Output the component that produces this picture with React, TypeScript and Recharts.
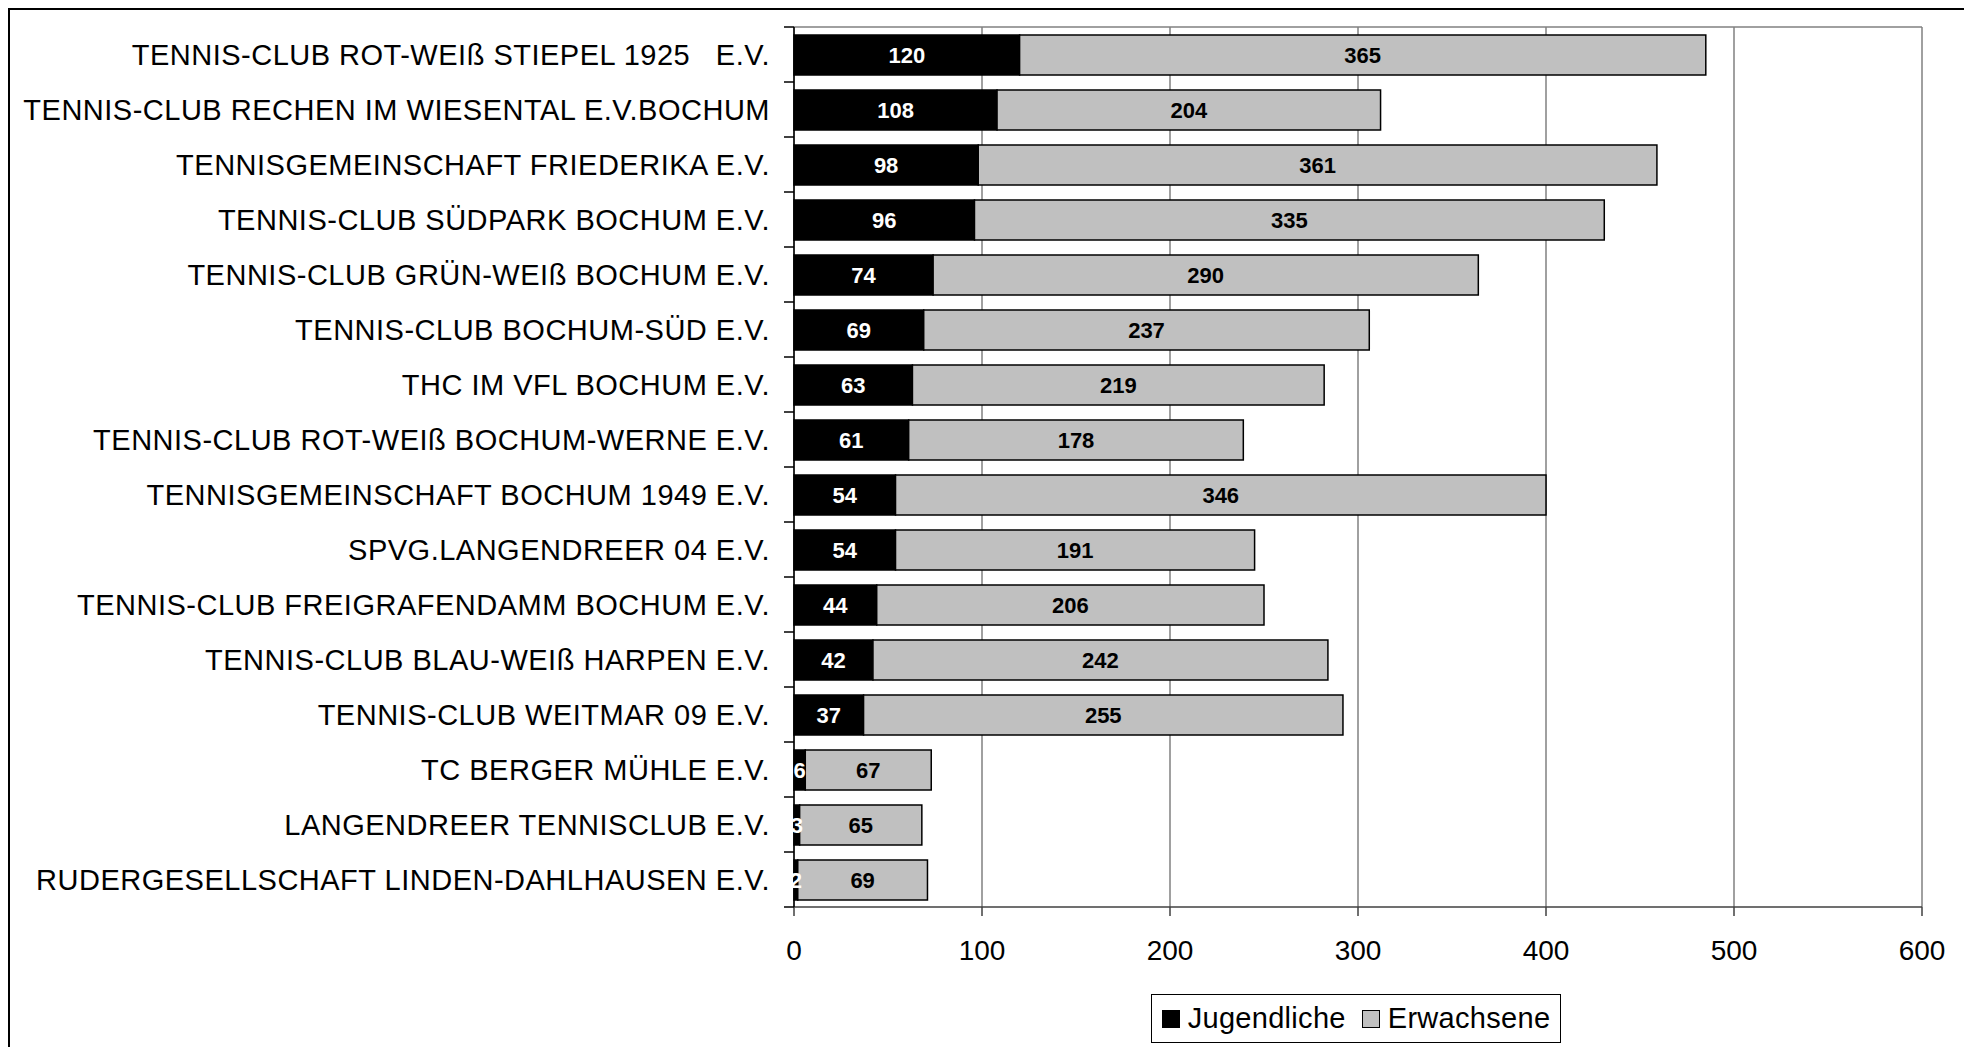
import React from 'react';
import {
  BarChart,
  Bar,
  XAxis,
  YAxis,
  CartesianGrid,
  Legend,
  LabelList,
} from 'recharts';

const clubs = [
  'TENNIS-CLUB ROT-WEIß STIEPEL 1925   E.V.',
  'TENNIS-CLUB RECHEN IM WIESENTAL E.V.BOCHUM',
  'TENNISGEMEINSCHAFT FRIEDERIKA E.V.',
  'TENNIS-CLUB SÜDPARK BOCHUM E.V.',
  'TENNIS-CLUB GRÜN-WEIß BOCHUM E.V.',
  'TENNIS-CLUB BOCHUM-SÜD E.V.',
  'THC IM VFL BOCHUM E.V.',
  'TENNIS-CLUB ROT-WEIß BOCHUM-WERNE E.V.',
  'TENNISGEMEINSCHAFT BOCHUM 1949 E.V.',
  'SPVG.LANGENDREER 04 E.V.',
  'TENNIS-CLUB FREIGRAFENDAMM BOCHUM E.V.',
  'TENNIS-CLUB BLAU-WEIß HARPEN E.V.',
  'TENNIS-CLUB WEITMAR 09 E.V.',
  'TC BERGER MÜHLE E.V.',
  'LANGENDREER TENNISCLUB E.V.',
  'RUDERGESELLSCHAFT LINDEN-DAHLHAUSEN E.V.',
];

const jugendliche = [120, 108, 98, 96, 74, 69, 63, 61, 54, 54, 44, 42, 37, 6, 3, 2];
const erwachsene = [365, 204, 361, 335, 290, 237, 219, 178, 346, 191, 206, 242, 255, 67, 65, 69];

const seriesOrder = ['Jugendliche', 'Erwachsene'];
const xTicks = [0, 100, 200, 300, 400, 500, 600];

const data = clubs.map((name, i) => ({
  name,
  Jugendliche: jugendliche[i],
  Erwachsene: erwachsene[i],
}));

const FONT = '"Liberation Sans", Arial, sans-serif';
const W = 1956;
const H = 1050;
const M = { top: 17, right: 44, left: 0, bottom: 93 };
const Y_W = 784;
const PLOT_H = 880;
const BAND = PLOT_H / clubs.length;

const ClubTick = (props: any) => {
  const { y, payload, index } = props;
  return (
    <g>
      <text
        x={Y_W - 24}
        y={y}
        textAnchor="end"
        dominantBaseline="central"
        fontSize={29}
        letterSpacing={0.5}
        fontFamily={FONT}
        fill="#000"
        style={{ whiteSpace: 'pre' }}
      >
        {payload.value}
      </text>
      {index === 0 && (
        <line x1={Y_W - 10} x2={Y_W} y1={y - BAND / 2} y2={y - BAND / 2} stroke="#000" strokeWidth={1.5} />
      )}
      <line x1={Y_W - 10} x2={Y_W} y1={y + BAND / 2} y2={y + BAND / 2} stroke="#000" strokeWidth={1.5} />
    </g>
  );
};

const LegendBox = (props: any) => {
  const items = [...(props.payload || [])].sort(
    (a: any, b: any) => seriesOrder.indexOf(a.value) - seriesOrder.indexOf(b.value)
  );
  return (
    <div
      style={{
        border: '1.5px solid #000',
        height: 49,
        width: 410,
        boxSizing: 'border-box',
        display: 'flex',
        alignItems: 'center',
        justifyContent: 'center',
        gap: 16,
        fontFamily: FONT,
        fontSize: 29,
        letterSpacing: 0.3,
        color: '#000',
        background: '#fff',
        whiteSpace: 'nowrap',
      }}
    >
      {items.map((it: any) => (
        <span key={it.value} style={{ display: 'flex', alignItems: 'center' }}>
          <span
            style={{
              display: 'inline-block',
              flexShrink: 0,
              width: 18,
              height: 18,
              background: it.color,
              border: '1.5px solid #000',
              boxSizing: 'border-box',
              marginRight: 8,
            }}
          />
          {it.value}
        </span>
      ))}
    </div>
  );
};

export default function App() {
  return (
    <div
      style={{
        width: 1960,
        height: 1060,
        border: '2px solid #000',
        boxSizing: 'border-box',
        background: '#fff',
      }}
    >
      <BarChart width={W} height={H} data={data} layout="vertical" margin={M}>
        <CartesianGrid
          vertical
          horizontal
          horizontalPoints={[M.top]}
          stroke="#808080"
          strokeWidth={1.5}
        />
        <XAxis
          type="number"
          domain={[0, 600]}
          ticks={xTicks}
          interval={0}
          height={60}
          tickSize={9}
          tickMargin={24}
          axisLine={{ stroke: '#404040', strokeWidth: 1.5 }}
          tickLine={{ stroke: '#404040', strokeWidth: 1.5 }}
          tick={{ fontSize: 28, fontFamily: FONT, fill: '#000' }}
        />
        <YAxis
          type="category"
          dataKey="name"
          width={Y_W}
          interval={0}
          tickLine={false}
          axisLine={{ stroke: '#000', strokeWidth: 1.5 }}
          tick={<ClubTick />}
        />
        <Legend
          layout="horizontal"
          verticalAlign="middle"
          align="center"
          wrapperStyle={{ top: 984, left: 1141, bottom: 'auto', width: 'auto' }}
          content={<LegendBox />}
        />
        <Bar
          dataKey="Jugendliche"
          stackId="a"
          fill="#000000"
          stroke="#000"
          strokeWidth={1.5}
          barSize={40}
          isAnimationActive={false}
        >
          <LabelList
            dataKey="Jugendliche"
            position="center"
            fill="#fff"
            fontSize={22}
            fontWeight="bold"
            fontFamily={FONT}
          />
        </Bar>
        <Bar
          dataKey="Erwachsene"
          stackId="a"
          fill="#C0C0C0"
          stroke="#000"
          strokeWidth={1.5}
          barSize={40}
          isAnimationActive={false}
        >
          <LabelList
            dataKey="Erwachsene"
            position="center"
            fill="#000"
            fontSize={22}
            fontWeight="bold"
            fontFamily={FONT}
          />
        </Bar>
      </BarChart>
    </div>
  );
}
